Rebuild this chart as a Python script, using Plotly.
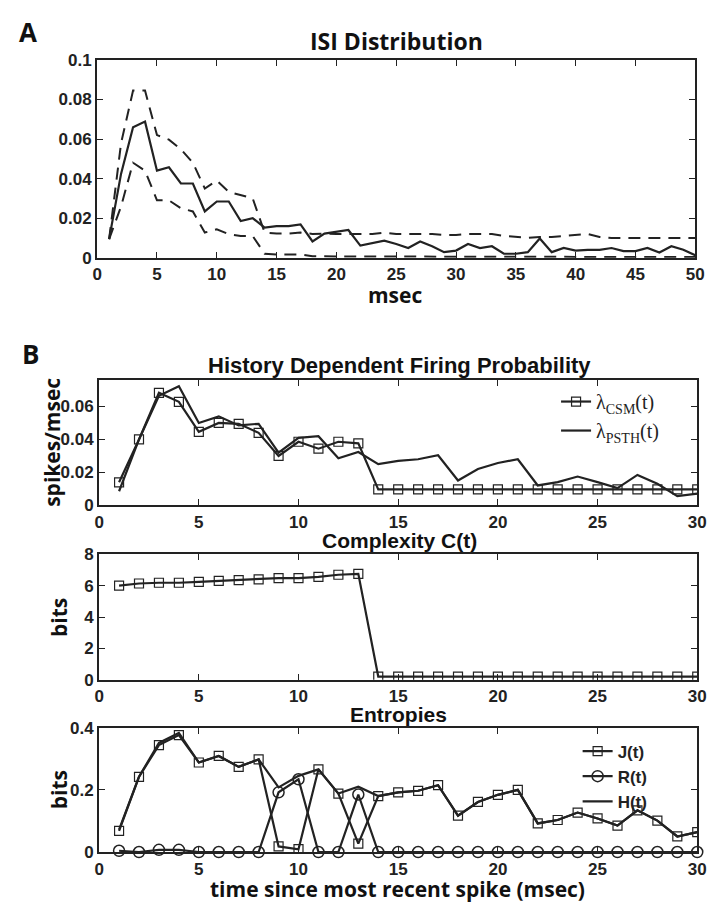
import plotly.graph_objects as go

# ---------------- data ----------------
isi_t = list(range(1, 51))
isi_mean = [0.0094, 0.0425, 0.066, 0.0688, 0.044, 0.0457, 0.0375, 0.0375, 0.0234, 0.0284,
            0.0284, 0.0185, 0.020, 0.0152, 0.016, 0.016, 0.0168, 0.0082, 0.0122, 0.013,
            0.014, 0.0061, 0.0072, 0.0086, 0.0069, 0.0049, 0.0082, 0.0058, 0.0028, 0.0036,
            0.0069, 0.0049, 0.0058, 0.002, 0.002, 0.0028, 0.0097, 0.0028, 0.0049, 0.0036,
            0.004, 0.004, 0.0049, 0.0033, 0.0033, 0.0049, 0.0026, 0.0058, 0.004, 0.0012]
isi_upper = [0.0094, 0.058, 0.0845, 0.0845, 0.062, 0.0597, 0.0548, 0.048, 0.035, 0.039,
             0.0333, 0.0317, 0.030, 0.0127, 0.0122, 0.0122, 0.0127, 0.012, 0.0122, 0.012,
             0.012, 0.012, 0.012, 0.0127, 0.012, 0.012, 0.012, 0.012, 0.0115, 0.0115,
             0.012, 0.012, 0.012, 0.011, 0.0105, 0.010, 0.0105, 0.0105, 0.011, 0.0115,
             0.012, 0.0105, 0.010, 0.010, 0.010, 0.010, 0.010, 0.010, 0.010, 0.010]
isi_lower = [0.0094, 0.026, 0.048, 0.044, 0.029, 0.029, 0.025, 0.0234, 0.0127, 0.0144,
             0.0119, 0.011, 0.011, 0.002, 0.0016, 0.0016, 0.0016, 0.0007, 0.0006, 0.0006,
             0.0006, 0.0006, 0.0006, 0.0006, 0.0006, 0.0006, 0.0006, 0.0006, 0.0006, 0.0006,
             0.0006, 0.0006, 0.0005, 0.0004, 0.0004, 0.0004, 0.0006, 0.0004, 0.0004, 0.0004,
             0.0004, 0.0004, 0.0004, 0.0004, 0.0004, 0.0004, 0.0003, 0.0004, 0.0003, 0.0003]

t = list(range(1, 31))
lam_csm = [0.014, 0.040, 0.0683, 0.0628, 0.0446, 0.050, 0.0495, 0.044, 0.030, 0.0386,
           0.0344, 0.0386, 0.0376, 0.0097, 0.0097, 0.0097, 0.0097, 0.0097, 0.0097, 0.0097,
           0.0097, 0.0097, 0.0097, 0.0097, 0.0097, 0.0097, 0.0097, 0.0097, 0.0097, 0.0097]
lam_psth = [0.0086, 0.040, 0.0665, 0.0723, 0.050, 0.054, 0.0485, 0.0495, 0.032, 0.041,
            0.042, 0.0286, 0.0324, 0.025, 0.027, 0.028, 0.0304, 0.0151, 0.0221, 0.0257,
            0.028, 0.0121, 0.0141, 0.0175, 0.0141, 0.0105, 0.0185, 0.0131, 0.0056, 0.0072]
complexity = [6.0, 6.14, 6.19, 6.19, 6.25, 6.31, 6.35, 6.41, 6.49, 6.49,
              6.56, 6.70, 6.76, 0.2, 0.2, 0.2, 0.2, 0.2, 0.2, 0.2,
              0.2, 0.2, 0.2, 0.2, 0.2, 0.2, 0.2, 0.2, 0.2, 0.2]
ent_J = [0.068, 0.242, 0.344, 0.376, 0.288, 0.309, 0.274, 0.298, 0.018, 0.009,
         0.266, 0.188, 0.027, 0.180, 0.192, 0.197, 0.215, 0.117, 0.161, 0.184,
         0.200, 0.092, 0.103, 0.127, 0.108, 0.085, 0.134, 0.101, 0.050, 0.064]
ent_R = [0.004, 0.0, 0.007, 0.007, 0.0, 0.0, 0.0, 0.0, 0.192, 0.234,
         0.0, 0.0, 0.185, 0.0, 0.0, 0.0, 0.0, 0.0, 0.0, 0.0,
         0.0, 0.0, 0.0, 0.0, 0.0, 0.0, 0.0, 0.0, 0.0, 0.0]
ent_H = [0.072, 0.242, 0.351, 0.383, 0.288, 0.309, 0.274, 0.298, 0.208, 0.245,
         0.266, 0.188, 0.210, 0.180, 0.192, 0.197, 0.215, 0.117, 0.161, 0.184,
         0.200, 0.092, 0.103, 0.127, 0.108, 0.085, 0.134, 0.101, 0.050, 0.064]

isi_xticks = [0, 5, 10, 15, 20, 25, 30, 35, 40, 45, 50]
isi_yticks = [0, 0.02, 0.04, 0.06, 0.08, 0.1]
isi_ylabels = ["0", "0.02", "0.04", "0.06", "0.08", "0.1"]
b_xticks = [0, 5, 10, 15, 20, 25, 30]
lam_yticks = [0, 0.02, 0.04, 0.06]
lam_ylabels = ["0", "0.02", "0.04", "0.06"]
c_yticks = [0, 2, 4, 6, 8]
e_yticks = [0, 0.2, 0.4]
e_ylabels = ["0", "0.2", "0.4"]

# ---------------- styling ----------------
W, H = 719, 910
INK = "#222222"
TICKFONT = dict(family="Liberation Sans, Arial", size=17, color=INK, weight=700)
HUM = "Open Sans"


def px_x(p):
    return p / W


def px_y(p):
    return 1 - p / H


def ax(domain, rng, tickvals, ticktext=None, anchor=None):
    d = dict(
        domain=domain, range=rng, tickvals=tickvals, showgrid=False, zeroline=False,
        showline=True, linecolor=INK, linewidth=2.2, mirror="ticks", ticks="inside",
        ticklen=6, tickwidth=1.3, tickcolor=INK, tickfont=TICKFONT, anchor=anchor,
        ticklabelstandoff=0,
    )
    if ticktext is not None:
        d["ticktext"] = ticktext
    return d


fig = go.Figure()

# Panel A
fig.add_trace(go.Scatter(x=isi_t, y=isi_upper, mode="lines", xaxis="x", yaxis="y",
                         line=dict(color=INK, width=2, dash="12px,8px"), showlegend=False))
fig.add_trace(go.Scatter(x=isi_t, y=isi_lower, mode="lines", xaxis="x", yaxis="y",
                         line=dict(color=INK, width=2, dash="12px,8px"), showlegend=False))
fig.add_trace(go.Scatter(x=isi_t, y=isi_mean, mode="lines", xaxis="x", yaxis="y",
                         line=dict(color=INK, width=2.2), showlegend=False))

sq = dict(symbol="square-open", size=9, color=INK, line=dict(width=1.2, color=INK))
ci = dict(symbol="circle-open", size=11, color=INK, line=dict(width=1.5, color=INK))

# Panel B1
fig.add_trace(go.Scatter(x=t, y=lam_csm, mode="lines+markers", xaxis="x2", yaxis="y2",
                         line=dict(color=INK, width=2.2), marker=sq,
                         name="λ<sub>CSM</sub>(t)", legend="legend"))
fig.add_trace(go.Scatter(x=t, y=lam_psth, mode="lines", xaxis="x2", yaxis="y2",
                         line=dict(color=INK, width=2.2),
                         name="λ<sub>PSTH</sub>(t)", legend="legend"))

# Panel B2
fig.add_trace(go.Scatter(x=t, y=complexity, mode="lines+markers", xaxis="x3", yaxis="y3",
                         line=dict(color=INK, width=2.2), marker=sq, showlegend=False))

# Panel B3
fig.add_trace(go.Scatter(x=t, y=ent_J, mode="lines+markers", xaxis="x4", yaxis="y4",
                         line=dict(color=INK, width=2.2), marker=sq,
                         name="J(t)", legend="legend2"))
fig.add_trace(go.Scatter(x=t, y=ent_R, mode="lines+markers", xaxis="x4", yaxis="y4",
                         line=dict(color=INK, width=2.2), marker=ci,
                         name="R(t)", legend="legend2", cliponaxis=False))
fig.add_trace(go.Scatter(x=t, y=ent_H, mode="lines", xaxis="x4", yaxis="y4",
                         line=dict(color=INK, width=2.2),
                         name="H(t)", legend="legend2"))

xA = [px_x(94), px_x(704)]
xB = [px_x(96), px_x(706)]

fig.update_layout(
    width=W, height=H, margin=dict(l=0, r=0, t=0, b=0),
    paper_bgcolor="white", plot_bgcolor="white",
    xaxis=ax(xA, [0, 50], isi_xticks, anchor="y"),
    yaxis=ax([px_y(254), px_y(52)], [0, 0.1], isi_yticks, isi_ylabels, anchor="x"),
    xaxis2=ax(xB, [0, 30], b_xticks, anchor="y2"),
    yaxis2=ax([px_y(507), px_y(379)], [0, 0.076], lam_yticks, lam_ylabels, anchor="x2"),
    xaxis3=ax(xB, [0, 30], b_xticks, anchor="y3"),
    yaxis3=ax([px_y(685), px_y(557)], [0, 8], c_yticks, anchor="x3"),
    xaxis4=ax(xB, [0, 30], b_xticks, anchor="y4"),
    yaxis4=ax([px_y(861), px_y(734)], [0, 0.4], e_yticks, e_ylabels, anchor="x4"),
    legend=dict(x=px_x(562), y=px_y(381), xanchor="left", yanchor="top",
                bgcolor="rgba(0,0,0,0)", borderwidth=0,
                font=dict(family="Liberation Serif, Times New Roman", size=20, color=INK),
                tracegroupgap=0),
    legend2=dict(x=px_x(584), y=px_y(740), xanchor="left", yanchor="top",
                 bgcolor="rgba(0,0,0,0)", borderwidth=0,
                 font=dict(family="Liberation Sans, Arial", size=17, color=INK, weight=700),
                 tracegroupgap=0),
    showlegend=True,
)

annots = [
    dict(text="A", x=23, y=23, size=26, fam=HUM),
    dict(text="B", x=26, y=352, size=26, fam=HUM),
    dict(text="ISI Distribution", x=399, y=33, size=23, fam=HUM),
    dict(text="msec", x=398, y=292, size=21, fam=HUM),
    dict(text="History Dependent Firing Probability", x=402, y=364, size=22,
         fam="Liberation Sans, Arial"),
    dict(text="Complexity C(t)", x=402, y=543, size=21, fam="Liberation Sans, Arial"),
    dict(text="Entropies", x=401, y=721, size=21, fam="Liberation Sans, Arial"),
    dict(text="time since most recent spike (msec)", x=400, y=899, size=21, fam=HUM),
    dict(text="spikes/msec", x=48, y=443, size=21, fam=HUM, rot=-90),
    dict(text="bits", x=55, y=621, size=21, fam=HUM, rot=-90),
    dict(text="bits", x=55, y=797, size=21, fam=HUM, rot=-90),
]
for a in annots:
    fig.add_annotation(
        text=a["text"], x=px_x(a["x"]), y=px_y(a["y"]), xref="paper", yref="paper",
        xanchor="center", yanchor="middle", showarrow=False, textangle=a.get("rot", 0),
        font=dict(family=a["fam"], size=a["size"], color="#111111", weight="bold"),
    )

fig.write_html("out.html", config={"displayModeBar": False},
               post_script="document.body.style.margin='0';")
